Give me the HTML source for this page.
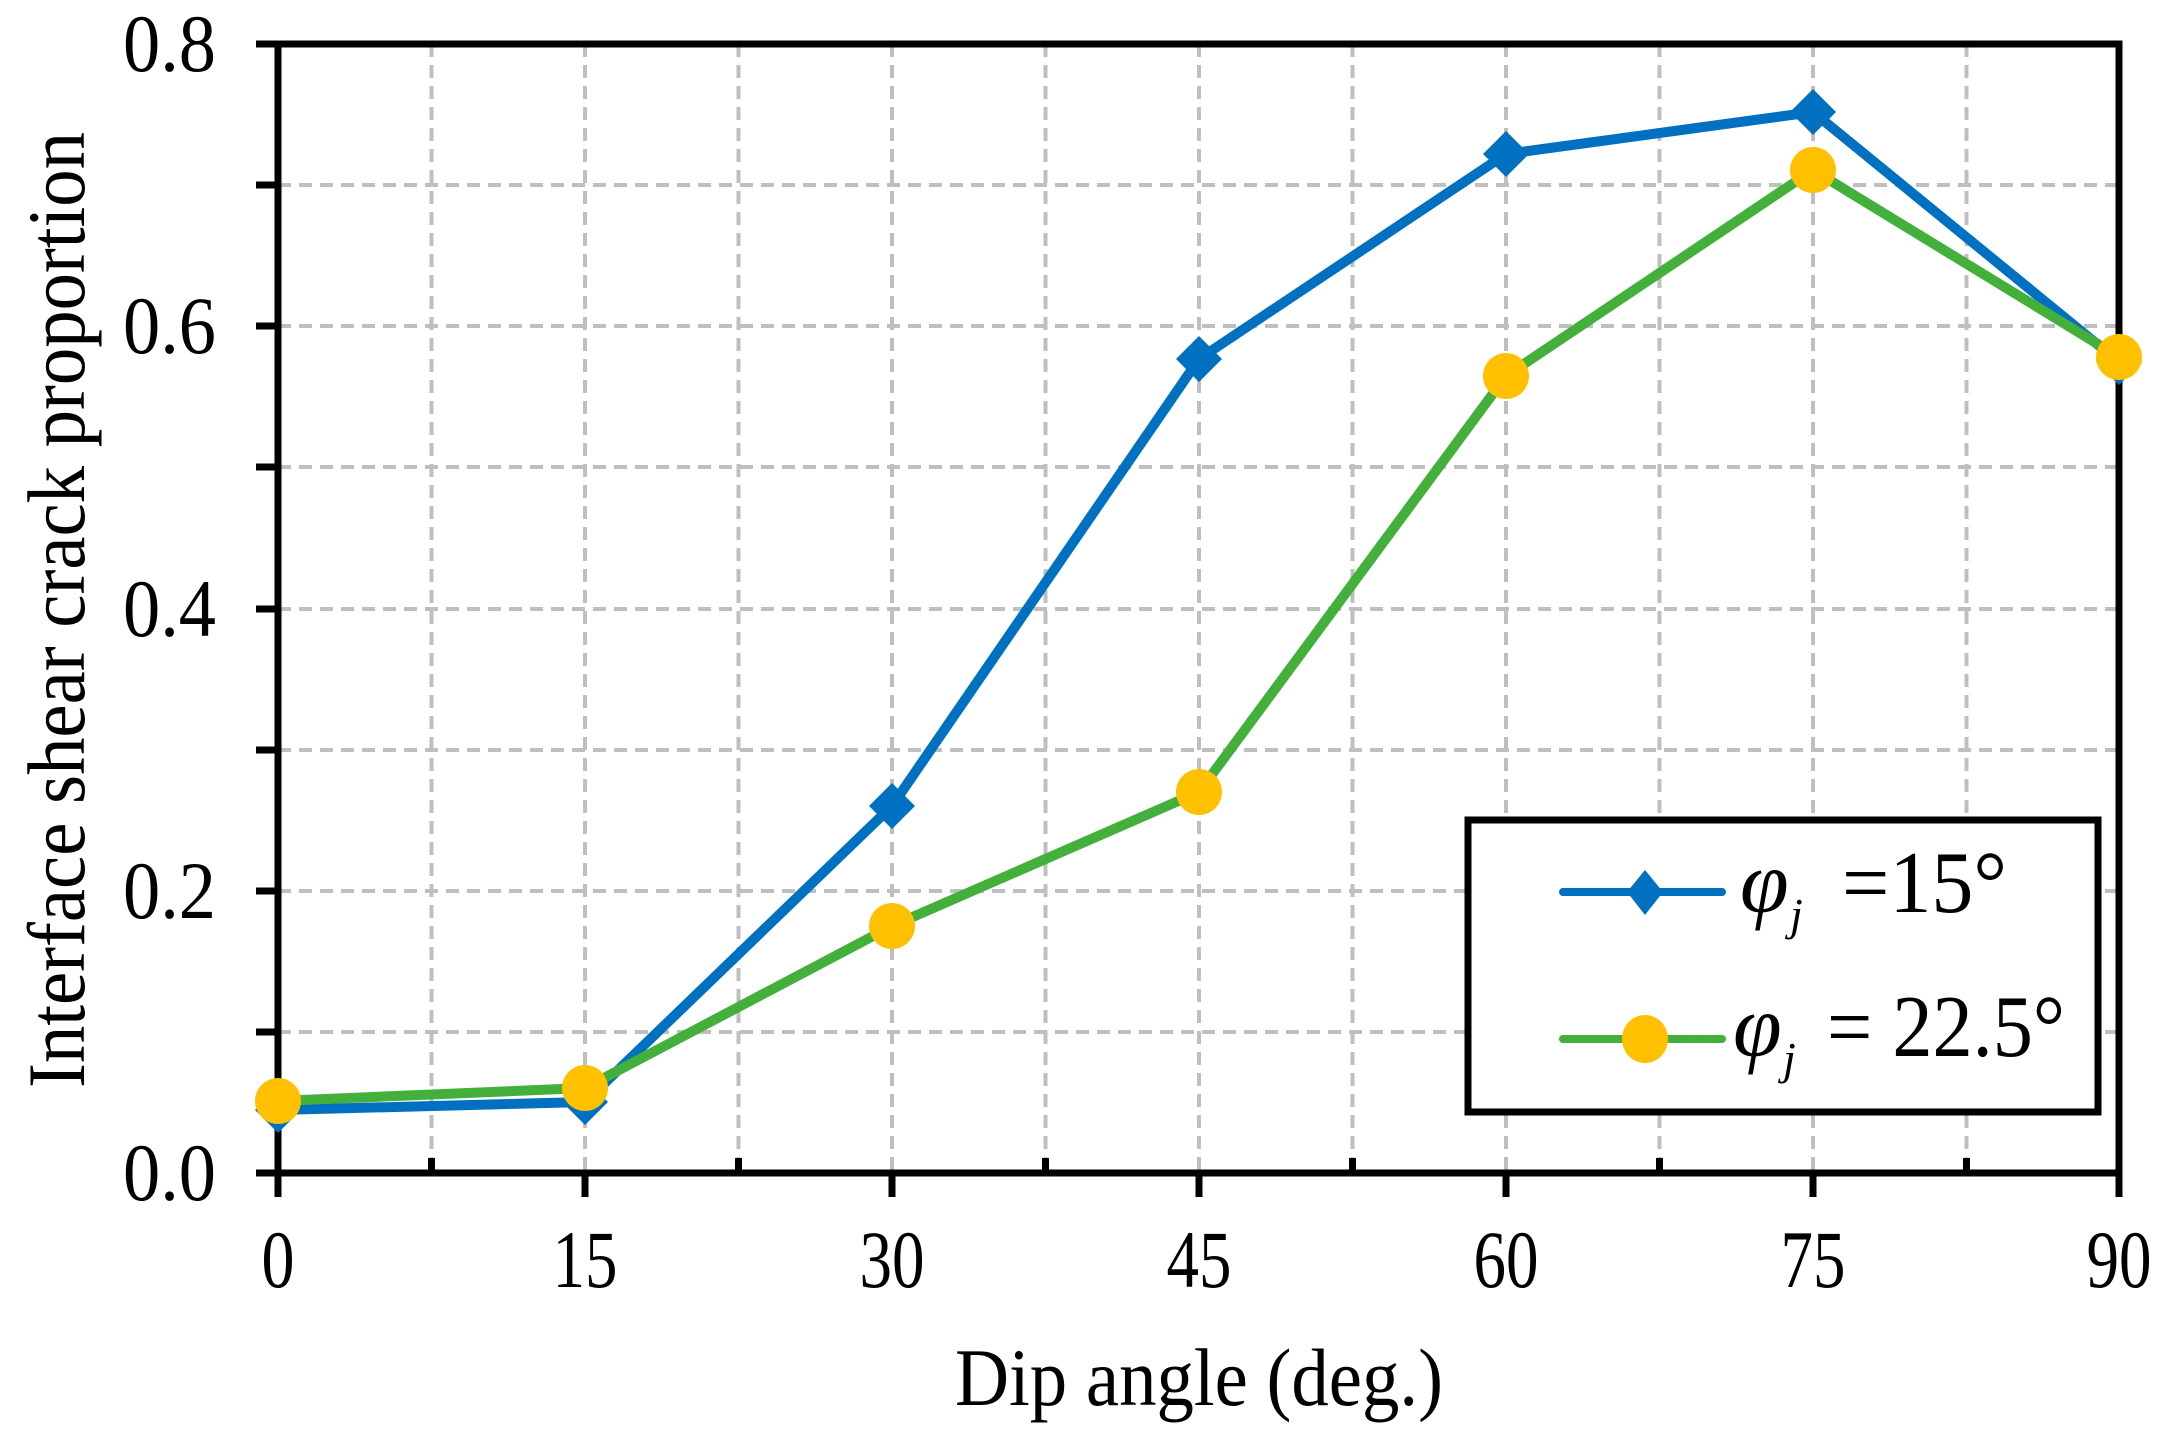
<!DOCTYPE html>
<html><head><meta charset="utf-8"><style>body{margin:0;background:#fff}svg{display:block}</style></head>
<body>
<svg width="2173" height="1429" viewBox="0 0 2173 1429" xmlns="http://www.w3.org/2000/svg" font-family="Liberation Serif, serif">
<rect width="2173" height="1429" fill="#fff"/>
<g stroke="#bfbfbf" stroke-width="4" stroke-dasharray="13,8">
<line x1="278" y1="1032" x2="2119" y2="1032"/>
<line x1="278" y1="891" x2="2119" y2="891"/>
<line x1="278" y1="750" x2="2119" y2="750"/>
<line x1="278" y1="609" x2="2119" y2="609"/>
<line x1="278" y1="467" x2="2119" y2="467"/>
<line x1="278" y1="326" x2="2119" y2="326"/>
<line x1="278" y1="185" x2="2119" y2="185"/>
<line x1="431.5" y1="44" x2="431.5" y2="1173"/>
<line x1="585" y1="44" x2="585" y2="1173"/>
<line x1="738.5" y1="44" x2="738.5" y2="1173"/>
<line x1="892" y1="44" x2="892" y2="1173"/>
<line x1="1045.5" y1="44" x2="1045.5" y2="1173"/>
<line x1="1199" y1="44" x2="1199" y2="1173"/>
<line x1="1352.5" y1="44" x2="1352.5" y2="1173"/>
<line x1="1506" y1="44" x2="1506" y2="1173"/>
<line x1="1659.5" y1="44" x2="1659.5" y2="1173"/>
<line x1="1813" y1="44" x2="1813" y2="1173"/>
<line x1="1966.5" y1="44" x2="1966.5" y2="1173"/>
</g>
<g stroke="#000" stroke-width="7" fill="none">
<rect x="278" y="44" width="1841" height="1129"/>
<path d="M256 1173H278M256 1032H278M256 891H278M256 750H278M256 609H278M256 467H278M256 326H278M256 185H278M256 44H278"/>
<path d="M278 1173V1197M585 1173V1197M892 1173V1197M1199 1173V1197M1506 1173V1197M1813 1173V1197M2119 1173V1197"/>
<path d="M431.5 1173V1158M738.5 1173V1158M1045.5 1173V1158M1352.5 1173V1158M1659.5 1173V1158M1966.5 1173V1158"/>
</g>
<g font-size="82" text-anchor="end">
<text x="216" y="1200" textLength="93" lengthAdjust="spacingAndGlyphs">0.0</text>
<text x="216" y="918" textLength="93" lengthAdjust="spacingAndGlyphs">0.2</text>
<text x="216" y="636" textLength="93" lengthAdjust="spacingAndGlyphs">0.4</text>
<text x="216" y="353" textLength="93" lengthAdjust="spacingAndGlyphs">0.6</text>
<text x="216" y="71" textLength="93" lengthAdjust="spacingAndGlyphs">0.8</text>
</g>
<g font-size="82" text-anchor="middle">
<text x="278" y="1287" textLength="33" lengthAdjust="spacingAndGlyphs">0</text>
<text x="585" y="1287" textLength="65" lengthAdjust="spacingAndGlyphs">15</text>
<text x="892" y="1287" textLength="65" lengthAdjust="spacingAndGlyphs">30</text>
<text x="1199" y="1287" textLength="65" lengthAdjust="spacingAndGlyphs">45</text>
<text x="1506" y="1287" textLength="65" lengthAdjust="spacingAndGlyphs">60</text>
<text x="1813" y="1287" textLength="65" lengthAdjust="spacingAndGlyphs">75</text>
<text x="2119" y="1287" textLength="65" lengthAdjust="spacingAndGlyphs">90</text>
<text x="1199" y="1405" textLength="488" lengthAdjust="spacingAndGlyphs">Dip angle (deg.)</text>
<text transform="translate(84,610) rotate(-90)" textLength="956" lengthAdjust="spacingAndGlyphs">Interface shear crack proportion</text>
</g>
<polyline fill="none" stroke="#0070c0" stroke-width="10" stroke-linejoin="round" points="278,1110 585,1102 892,806 1199,359 1506,154 1813,112 2119,362"/>
<g fill="#0070c0">
<path d="M278 1087l23 23-23 23-23-23z"/><path d="M585 1079l23 23-23 23-23-23z"/><path d="M892 783l23 23-23 23-23-23z"/><path d="M1199 336l23 23-23 23-23-23z"/><path d="M1506 131l23 23-23 23-23-23z"/><path d="M1813 89l23 23-23 23-23-23z"/><path d="M2119 339l23 23-23 23-23-23z"/>
</g>
<polyline fill="none" stroke="#43b03c" stroke-width="10" stroke-linejoin="round" points="278,1101 585,1088 892,926 1199,792 1506,376 1813,170 2119,357"/>
<g fill="#ffc000">
<circle cx="278" cy="1101" r="23"/><circle cx="585" cy="1088" r="23"/><circle cx="892" cy="926" r="23"/><circle cx="1199" cy="792" r="23"/><circle cx="1506" cy="376" r="23"/><circle cx="1813" cy="170" r="23"/><circle cx="2119" cy="357" r="23"/>
</g>
<rect x="1468" y="820" width="630" height="292" fill="#fff" stroke="#000" stroke-width="7"/>
<line x1="1563" y1="892" x2="1722" y2="892" stroke="#0070c0" stroke-width="8" stroke-linecap="round"/>
<path d="M1645 870l18 22-18 23-18-23z" fill="#0070c0"/>
<line x1="1563" y1="1039" x2="1722" y2="1039" stroke="#43b03c" stroke-width="8" stroke-linecap="round"/>
<ellipse cx="1645" cy="1039" rx="23" ry="24" fill="#ffc000"/>
<g font-size="88">
<text x="1740" y="912" font-style="italic">φ</text>
<text x="1790" y="930" font-style="italic" font-size="46">j</text>
<text x="1842" y="912" textLength="165" lengthAdjust="spacingAndGlyphs">=15°</text>
<text x="1733" y="1056" font-style="italic">φ</text>
<text x="1783" y="1074" font-style="italic" font-size="46">j</text>
<text x="1827" y="1056" textLength="238" lengthAdjust="spacingAndGlyphs">= 22.5°</text>
</g>
</svg>
</body></html>
